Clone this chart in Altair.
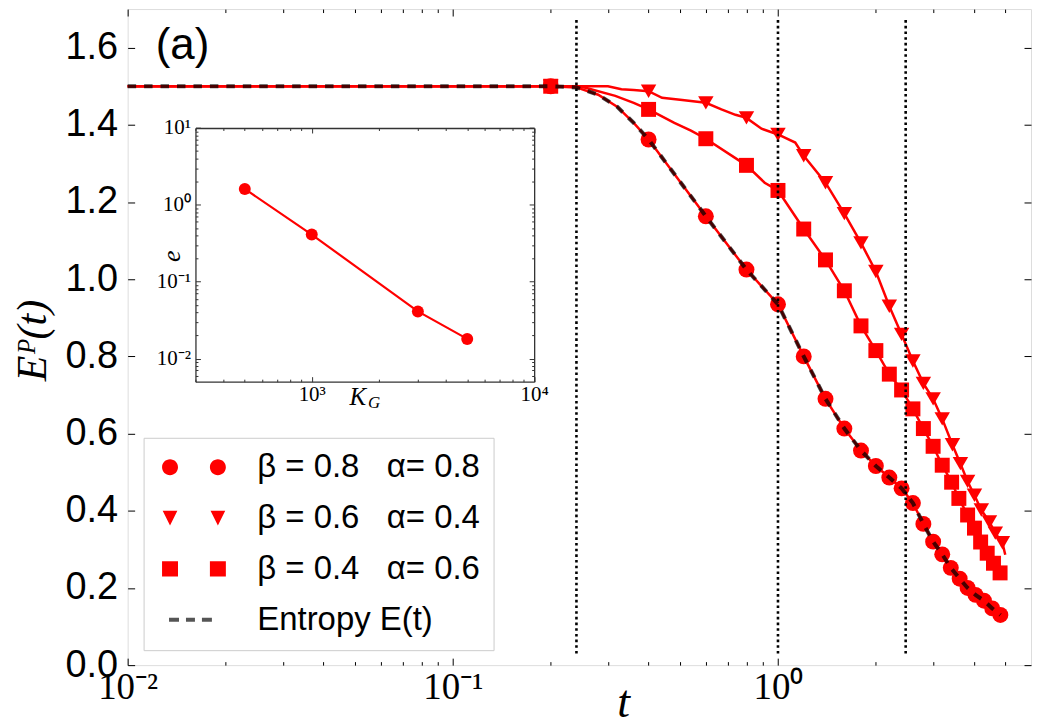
import altair as alt
import pandas as pd

# ---------------- values ----------------
NB = "\u00a0"
SERIES = [f"β{NB}={NB}0.8{NB}{NB}{NB}α={NB}0.8",
          f"β{NB}={NB}0.6{NB}{NB}{NB}α={NB}0.4",
          f"β{NB}={NB}0.4{NB}{NB}{NB}α={NB}0.6"]
ENTROPY_LABEL = f"Entropy{NB}E(t)"

# circles  (beta=0.8, alpha=0.8)
T_A = [0.2, 0.4, 0.6, 0.8, 1.0, 1.2, 1.4, 1.6, 1.8, 2.0, 2.2, 2.4, 2.6, 2.8,
       3.0, 3.2, 3.4, 3.62, 3.83, 4.05, 4.3, 4.56, 4.83]
Y_A = [1.5, 1.362, 1.163, 1.025, 0.935, 0.80, 0.69, 0.613, 0.556, 0.516, 0.486,
       0.458, 0.42, 0.366, 0.32, 0.287, 0.252, 0.224, 0.2, 0.182, 0.167, 0.147, 0.13]
LINE_A_T = [0.01, 0.24, 0.28, 0.32, 0.36]
LINE_A_Y = [1.5, 1.497, 1.478, 1.447, 1.405]

# triangles (beta=0.6, alpha=0.4)
T_B = [0.2, 0.4, 0.6, 0.8, 1.0, 1.2, 1.4, 1.6, 1.8, 2.0, 2.2, 2.4, 2.6, 2.8,
       3.0, 3.2, 3.44, 3.64, 3.83, 4.02, 4.22, 4.47, 4.66, 4.9]
Y_B = [1.5, 1.487, 1.457, 1.418, 1.375, 1.32, 1.25, 1.17, 1.094, 1.02, 0.93,
       0.857, 0.788, 0.73, 0.69, 0.638, 0.571, 0.522, 0.476, 0.44, 0.402, 0.371,
       0.342, 0.317]
LINE_B_T = [0.01, 0.3, 0.33, 0.36, 0.44, 0.5, 0.67, 0.74, 0.89, 1.13, 5.0]
LINE_B_Y = [1.5, 1.5, 1.492, 1.49, 1.47, 1.465, 1.44, 1.426, 1.39, 1.354, 0.286]

# squares (beta=0.4, alpha=0.6)
T_C = [0.2, 0.4, 0.6, 0.8, 1.0, 1.2, 1.4, 1.6, 1.8, 2.0, 2.2, 2.4, 2.6, 2.8,
       3.0, 3.2, 3.42, 3.6, 3.83, 4.02, 4.2, 4.4, 4.6, 4.82]
Y_C = [1.5, 1.44, 1.364, 1.295, 1.23, 1.13, 1.05, 0.97, 0.879, 0.815, 0.754,
       0.713, 0.664, 0.613, 0.567, 0.518, 0.474, 0.432, 0.389, 0.355, 0.319, 0.29,
       0.264, 0.239]
LINE_C_T = [0.01, 0.24, 0.256, 0.316, 0.36, 0.48, 0.54, 0.91]
LINE_C_Y = [1.5, 1.5, 1.496, 1.475, 1.457, 1.405, 1.385, 1.25]

# entropy E(t) (dashed)
ENTROPY_T = [0.01, 0.2, 0.24, 0.28, 0.32, 0.36, 0.4, 0.6, 0.8, 1.0, 1.2, 1.4, 1.6,
             1.8, 2.0, 2.2, 2.4, 2.6, 2.8, 3.0, 3.2, 3.4, 3.62, 3.83, 4.05, 4.3,
             4.56, 4.83]
ENTROPY_Y = [1.5, 1.5, 1.497, 1.478, 1.447, 1.405, 1.362, 1.163, 1.025, 0.935,
             0.80, 0.69, 0.613, 0.556, 0.516, 0.486, 0.458, 0.42, 0.366, 0.32,
             0.287, 0.252, 0.224, 0.2, 0.182, 0.167, 0.147, 0.13]

# vertical dotted markers
VLINE_T = [0.24, 1.0, 2.47]
VLINE_Y0 = [0.03, 0.03, 0.03]
VLINE_Y1 = [1.675, 1.675, 1.675]

# inset
KG = [500, 1000, 3000, 5000]
ERR = [1.61, 0.41, 0.041, 0.018]

# axes ticks / labels
MAIN_X_MAJOR = [0.01, 0.1, 1]
MAIN_X_LABELS = ["10⁻²", "10⁻¹", "10⁰"]
MAIN_X_MINOR = [0.02, 0.03, 0.04, 0.05, 0.06, 0.07, 0.08, 0.09,
                0.2, 0.3, 0.4, 0.5, 0.6, 0.7, 0.8, 0.9, 2, 3, 4, 5]
MAIN_Y_TICKS = [0.0, 0.2, 0.4, 0.6, 0.8, 1.0, 1.2, 1.4, 1.6]

INSET_X_MAJOR = [1000, 10000]
INSET_X_LABELS = ["10³", "10⁴"]
INSET_X_MINOR = [300, 400, 500, 600, 700, 800, 900,
                 2000, 3000, 4000, 5000, 6000, 7000, 8000, 9000]
INSET_Y_MAJOR = [0.01, 0.1, 1, 10]
INSET_Y_LABELS = ["10⁻²", "10⁻¹", "10⁰", "10¹"]
INSET_Y_MINOR = [0.006, 0.007, 0.008, 0.009,
                 0.02, 0.03, 0.04, 0.05, 0.06, 0.07, 0.08, 0.09,
                 0.2, 0.3, 0.4, 0.5, 0.6, 0.7, 0.8, 0.9,
                 2, 3, 4, 5, 6, 7, 8, 9]

# ---------------- layout / style ----------------
W, H = 906, 658
IN_L, IN_R, IN_T, IN_B = 68, 407.7, 119.3, 373.7
RED = "#ff0000"
FRAME = "#333333"
SANS = "Liberation Sans"
SERIF = "Liberation Serif"

# legend symbols (two markers per entry, as in the reference)
LEG_PATHS = [
    "M-1.375,0A1,1,0,1,0,0.625,0A1,1,0,1,0,-1.375,0Z"
    "M4.625,0A1,1,0,1,0,6.625,0A1,1,0,1,0,4.625,0Z",
    "M-1.295,-0.92L0.545,-0.92L-0.375,0.92Z"
    "M4.705,-0.92L6.545,-0.92L5.625,0.92Z",
    "M-1.375,-0.95L0.625,-0.95L0.625,0.95L-1.375,0.95Z"
    "M4.625,-0.95L6.625,-0.95L6.625,0.95L4.625,0.95Z",
    "M-0.5,-0.25L0.75,-0.25L0.75,0.25L-0.5,0.25Z"
    "M1.625,-0.25L2.75,-0.25L2.75,0.25L1.625,0.25Z"
    "M3.625,-0.25L4.875,-0.25L4.875,0.25L3.625,0.25Z",
]
LEG_COLORS = [RED, RED, RED, "#555555"]

# ---------------- data frames ----------------
markers = pd.concat([
    pd.DataFrame({"t": T_A, "y": Y_A, "series": SERIES[0]}),
    pd.DataFrame({"t": T_B, "y": Y_B, "series": SERIES[1]}),
    pd.DataFrame({"t": T_C, "y": Y_C, "series": SERIES[2]}),
], ignore_index=True)

lines = pd.concat([
    pd.DataFrame({"t": T_A + LINE_A_T, "y": Y_A + LINE_A_Y, "series": SERIES[0]}),
    pd.DataFrame({"t": T_B + LINE_B_T, "y": Y_B + LINE_B_Y, "series": SERIES[1]}),
    pd.DataFrame({"t": T_C + LINE_C_T, "y": Y_C + LINE_C_Y, "series": SERIES[2]}),
], ignore_index=True).sort_values(["series", "t"])

entropy = pd.DataFrame({"t": ENTROPY_T, "y": ENTROPY_Y})
vlines = pd.DataFrame({"t": VLINE_T, "y0": VLINE_Y0, "y1": VLINE_Y1})
inset = pd.DataFrame({"k": KG, "e": ERR})
panel = pd.DataFrame({"label": ["(a)"]})
subscript = pd.DataFrame({"label": ["G"]})


def label_expr(values, labels):
    expr = "''"
    for v, l in reversed(list(zip(values, labels))):
        expr = f"datum.value == {v!r} ? '{l}' : {expr}"
    return expr


def tick_cond(major, big, small):
    test = "indexof([" + ",".join(repr(v) for v in major) + "], datum.value) >= 0"
    return {"condition": {"test": test, "value": big}, "value": small}


XS = alt.Scale(type="log", domain=[0.01, 6], nice=False)
YS = alt.Scale(type="linear", domain=[0, 1.7], nice=False, zero=False)
IXS = alt.Scale(type="log", domain=[300, 10000], nice=False, range=[IN_L, IN_R])
IYS = alt.Scale(type="log", domain=[0.005, 10], nice=False, range=[IN_B, IN_T])

inward = dict(labels=False, domain=False, grid=False, tickColor="black",
              tickWidth=1, title=None)

AX_D = alt.Axis(orient="bottom", values=MAIN_X_MAJOR,
                labelExpr=label_expr(MAIN_X_MAJOR, MAIN_X_LABELS),
                labelFont=SERIF, labelFontSize=37, labelPadding=4,
                labelFlush=False, labelOverlap=False, labelColor="black",
                ticks=False, domain=False, grid=False,
                title="t", titleFont=SERIF, titleFontStyle="italic",
                titleFontWeight="normal", titleFontSize=46, titleColor="black",
                titleX=497, titleY=52, titleAlign="center",
                titleBaseline="alphabetic")
AX_E = alt.Axis(orient="top", offset=-H, values=MAIN_X_MAJOR + MAIN_X_MINOR,
                tickSize=tick_cond(MAIN_X_MAJOR, 7, 3.5), **inward)
AX_F = alt.Axis(orient="bottom", offset=-H, values=MAIN_X_MAJOR + MAIN_X_MINOR,
                tickSize=tick_cond(MAIN_X_MAJOR, 7, 3.5), **inward)

AX_A = alt.Axis(orient="left", values=MAIN_Y_TICKS, format=".1f",
                labelFont=SANS, labelFontSize=38, labelPadding=10,
                labelColor="black", labelFlush=False, labelOverlap=False,
                ticks=False, domain=False, grid=False,
                title="Eᴾ(t)", titleFont=SERIF, titleFontStyle="italic",
                titleFontWeight="normal", titleFontSize=42, titleColor="black",
                titleX=-95, titleY=H / 2 + 3, titleAngle=270,
                titleAlign="center", titleBaseline="middle")
AX_B = alt.Axis(orient="right", offset=-W, values=MAIN_Y_TICKS, tickSize=7, **inward)
AX_C = alt.Axis(orient="left", offset=-W, values=MAIN_Y_TICKS, tickSize=7, **inward)

inset_inward = dict(labels=False, grid=False, tickColor=FRAME, tickWidth=1,
                    title=None)
AX_I1 = alt.Axis(orient="bottom", offset=-(H - IN_B), values=INSET_X_MAJOR,
                 labelExpr=label_expr(INSET_X_MAJOR, INSET_X_LABELS),
                 labelFont=SERIF, labelFontSize=21, labelPadding=2,
                 labelFlush=False, labelOverlap=False, labelColor="black",
                 ticks=False, domain=True, domainColor=FRAME, domainWidth=1.3,
                 grid=False,
                 title="K", titleFont=SERIF,
                 titleFontStyle="italic", titleFontWeight="normal",
                 titleFontSize=25, titleColor="black",
                 titleX=222, titleY=23, titleAlign="left",
                 titleBaseline="alphabetic")
AX_I2 = alt.Axis(orient="top", offset=-IN_B, values=INSET_X_MAJOR + INSET_X_MINOR,
                 tickSize=tick_cond(INSET_X_MAJOR, 5, 2.5), domain=False,
                 **inset_inward)
AX_I3 = alt.Axis(orient="bottom", offset=-(H - IN_T),
                 values=INSET_X_MAJOR + INSET_X_MINOR,
                 tickSize=tick_cond(INSET_X_MAJOR, 5, 2.5), domain=True,
                 domainColor=FRAME, domainWidth=1.3, **inset_inward)

AX_J1 = alt.Axis(orient="left", offset=-IN_L, values=INSET_Y_MAJOR,
                 labelExpr=label_expr(INSET_Y_MAJOR, INSET_Y_LABELS),
                 labelFont=SERIF, labelFontSize=21, labelPadding=5,
                 labelFlush=False, labelOverlap=False, labelColor="black",
                 ticks=False, domain=True, domainColor=FRAME, domainWidth=1.3,
                 grid=False,
                 title="e", titleFont=SERIF, titleFontStyle="italic",
                 titleFontWeight="normal", titleFontSize=26, titleColor="black",
                 titleX=-24, titleY=(IN_T + IN_B) / 2 + 1, titleAngle=270,
                 titleAlign="center", titleBaseline="middle")
AX_J2 = alt.Axis(orient="right", offset=-(W - IN_L),
                 values=INSET_Y_MAJOR + INSET_Y_MINOR,
                 tickSize=tick_cond(INSET_Y_MAJOR, 5, 2.5), domain=False,
                 **inset_inward)
AX_J3 = alt.Axis(orient="left", offset=-IN_R,
                 values=INSET_Y_MAJOR + INSET_Y_MINOR,
                 tickSize=tick_cond(INSET_Y_MAJOR, 5, 2.5), domain=True,
                 domainColor=FRAME, domainWidth=1.3, **inset_inward)

LEG = alt.Legend(title=None, orient="none", legendX=16, legendY=430,
                 padding=13, strokeColor="#cccccc", fillColor="white",
                 cornerRadius=0, labelFont=SANS, labelFontSize=33,
                 labelColor="black", labelLimit=0, labelOffset=68,
                 symbolSize=256, symbolStrokeWidth=0, rowPadding=17,
                 labelBaseline="middle")

# ---------------- layers ----------------
red_lines = alt.Chart(lines).mark_line(color=RED, strokeWidth=2.5).encode(
    x=alt.X("t:Q", scale=XS, axis=AX_E),
    y=alt.Y("y:Q", scale=YS, axis=AX_B),
    detail="series:N",
)

points = alt.Chart(markers).mark_point(filled=True, opacity=1, color=RED).encode(
    x=alt.X("t:Q", scale=XS, axis=None),
    y=alt.Y("y:Q", scale=YS, axis=None),
    shape=alt.Shape("series:N", scale=alt.Scale(
        domain=SERIES, range=["circle", "triangle-down", "square"]), legend=None),
    size=alt.Size("series:N", scale=alt.Scale(
        domain=SERIES, range=[256, 225, 240]), legend=None),
)

dotted = alt.Chart(vlines).mark_rule(color="black", strokeWidth=2.6,
                                     strokeDash=[2.6, 3.1]).encode(
    x=alt.X("t:Q", scale=XS, axis=AX_D),
    y=alt.Y("y0:Q", scale=YS, axis=AX_A),
    y2="y1:Q",
)

entropy_line = alt.Chart(entropy).mark_line(
    color="black", opacity=0.72, strokeWidth=4, strokeDash=[8.5, 8]).encode(
    x=alt.X("t:Q", scale=XS, axis=AX_F),
    y=alt.Y("y:Q", scale=YS, axis=AX_C),
)

inset_line = alt.Chart(inset).mark_line(color=RED, strokeWidth=2.2).encode(
    x=alt.X("k:Q", scale=IXS, axis=AX_I1),
    y=alt.Y("e:Q", scale=IYS, axis=AX_J1),
)
inset_points = alt.Chart(inset).mark_point(filled=True, opacity=1, color=RED,
                                           size=144, shape="circle").encode(
    x=alt.X("k:Q", scale=IXS, axis=AX_I2),
    y=alt.Y("e:Q", scale=IYS, axis=AX_J2),
)
inset_frame = alt.Chart(inset).mark_point(opacity=0).encode(
    x=alt.X("k:Q", scale=IXS, axis=AX_I3),
    y=alt.Y("e:Q", scale=IYS, axis=AX_J3),
)

legend_layer = alt.Chart(markers).transform_filter("false").mark_point(
    filled=True, opacity=1, size=256).encode(
    x=alt.X("t:Q", scale=XS, axis=None),
    y=alt.Y("y:Q", scale=YS, axis=None),
    color=alt.Color("series:N", scale=alt.Scale(
        domain=SERIES + [ENTROPY_LABEL], range=LEG_COLORS), legend=LEG),
    shape=alt.Shape("series:N", scale=alt.Scale(
        domain=SERIES + [ENTROPY_LABEL], range=LEG_PATHS), legend=LEG),
)

panel_label = alt.Chart(panel).mark_text(
    font=SANS, fontSize=44, color="black", align="center", baseline="middle"
).encode(text="label:N", x=alt.value(55), y=alt.value(37))

# subscript "G" of the inset axis title K_G
k_sub = alt.Chart(subscript).mark_text(
    font=SERIF, fontStyle="italic", fontSize=17, color="black",
    align="left", baseline="alphabetic"
).encode(text="label:N", x=alt.value(241), y=alt.value(400))

chart = alt.layer(
    red_lines, points, dotted, entropy_line,
    inset_line, inset_points, inset_frame,
    legend_layer, panel_label, k_sub,
).resolve_scale(
    x="independent", y="independent", shape="independent",
    size="independent", color="independent",
).resolve_axis(
    x="independent", y="independent",
).properties(
    width=W, height=H,
    autosize=alt.AutoSizeParams(type="none"),
    padding={"left": 120, "top": 0, "right": 2, "bottom": 61},
).configure_view(
    stroke="black", strokeWidth=1.5,
).configure(background="white")

chart.save("out.html", embed_options={"renderer": "svg", "actions": False})
